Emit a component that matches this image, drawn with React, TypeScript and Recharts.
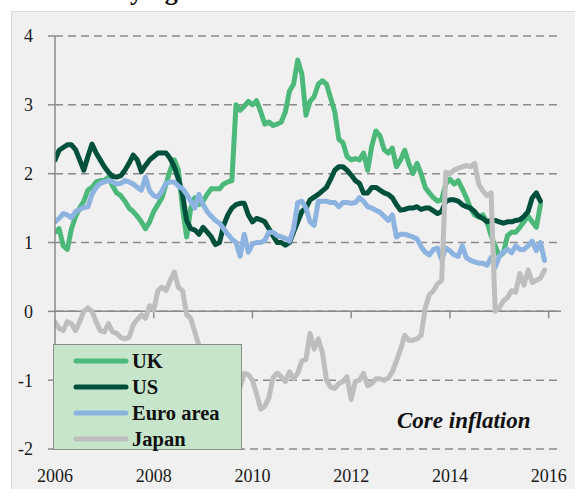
import React from 'react';
import { LineChart, Line, XAxis, YAxis, CartesianGrid, ReferenceLine } from 'recharts';

// monthly core inflation, Jan 2006 onwards (% y/y)
const UK = [
  1.15, 1.2, 0.95, 0.9, 1.2, 1.38, 1.5, 1.6, 1.76, 1.8, 1.88, 1.9,
  1.9, 1.95, 1.82, 1.72, 1.68, 1.6, 1.5, 1.45, 1.38, 1.3, 1.2, 1.3,
  1.45, 1.55, 1.65, 1.85, 2.05, 2.2, 2.05, 1.5, 1.08, 1.5, 1.65, 1.55,
  1.6, 1.7, 1.78, 1.78, 1.78, 1.85, 1.88, 1.9, 3.0, 2.92, 2.98, 3.05,
  3.0, 3.06, 2.9, 2.72, 2.75, 2.7, 2.72, 2.75, 2.9, 3.2, 3.3, 3.65,
  3.45, 2.85, 3.05, 3.12, 3.3, 3.35, 3.3, 3.1, 2.9, 2.5, 2.45, 2.25,
  2.2, 2.22, 2.2, 2.3, 2.05, 2.4, 2.62, 2.55, 2.35, 2.3, 2.37, 2.1,
  2.2, 2.34, 2.15, 2.0, 2.15, 2.0, 1.8, 1.72, 1.65, 1.6, 1.62, 1.85,
  1.92, 1.85, 1.9, 1.78, 1.65, 1.5, 1.4, 1.37, 1.4, 1.3, 1.1, 0.95,
  0.8, 0.85, 1.1, 1.15, 1.15, 1.22, 1.3, 1.38, 1.3, 1.22, 1.55,
];

const US = [
  2.2, 2.34, 2.38, 2.42, 2.42, 2.35, 2.2, 2.05, 2.25, 2.43, 2.3, 2.2,
  2.1, 2.02, 1.96, 1.95, 1.97, 2.05, 2.15, 2.27, 2.2, 2.03, 2.12, 2.2,
  2.25, 2.3, 2.3, 2.3, 2.22, 2.1, 1.92, 1.7, 1.32, 1.2, 1.18, 1.12,
  1.22, 1.15, 1.08, 0.97, 1.0, 1.25, 1.4, 1.5, 1.55, 1.57, 1.57, 1.4,
  1.3, 1.35, 1.33, 1.3, 1.2, 1.1, 1.0, 1.0, 0.96, 1.0, 1.15, 1.3,
  1.45, 1.5, 1.62, 1.66, 1.7, 1.75, 1.8, 1.92, 2.05, 2.1, 2.1, 2.05,
  1.98, 1.9, 1.86, 1.72, 1.72, 1.8, 1.8, 1.76, 1.72, 1.7, 1.65, 1.55,
  1.47, 1.48, 1.5, 1.5, 1.52, 1.48, 1.5, 1.5, 1.46, 1.42, 1.45, 1.6,
  1.62, 1.62, 1.6, 1.55, 1.52, 1.5, 1.45, 1.38, 1.35, 1.3, 1.32, 1.32,
  1.3, 1.28, 1.3, 1.3, 1.32, 1.33, 1.38, 1.45, 1.65, 1.72, 1.6,
];

const EURO = [
  1.3, 1.35, 1.42, 1.4, 1.36, 1.45, 1.48, 1.51, 1.52, 1.7, 1.8, 1.86,
  1.88, 1.9, 1.88, 1.85, 1.86, 1.9, 1.88, 1.85, 1.8, 1.76, 1.95, 1.75,
  1.68, 1.66, 1.75, 1.86, 1.88, 1.88, 1.82, 1.78, 1.7, 1.6, 1.5, 1.7,
  1.55, 1.45, 1.38, 1.32, 1.28, 1.2, 1.12, 1.05, 1.0, 0.8, 1.12, 0.86,
  0.98, 1.0, 1.0, 1.03, 1.15, 1.15, 1.1, 1.08, 1.06, 1.02, 1.2, 1.58,
  1.6, 1.5, 1.3, 1.25, 1.6, 1.6, 1.6, 1.58, 1.58, 1.52, 1.58, 1.58,
  1.57, 1.58, 1.65, 1.6, 1.52, 1.5, 1.47, 1.44, 1.38, 1.32, 1.4, 1.08,
  1.12, 1.12, 1.1, 1.08, 1.05, 0.94, 0.86, 0.82, 0.9, 0.92, 0.75, 0.92,
  0.88, 0.82, 0.8, 0.95, 0.78, 0.74, 0.72, 0.7, 0.7, 0.67, 0.78, 0.64,
  0.8, 0.86, 0.9, 0.85, 0.95, 0.9, 0.9, 0.95, 1.02, 0.88, 1.0, 0.74,
];

const JAPAN = [
  -0.15, -0.25, -0.28, -0.15, -0.18, -0.28, -0.15, 0.0, 0.05, 0.0, -0.15, -0.28,
  -0.3, -0.18, -0.3, -0.32, -0.38, -0.4, -0.38, -0.2, -0.12, -0.05, -0.1, 0.08,
  0.02, 0.3, 0.35, 0.3, 0.45, 0.57, 0.35, 0.3, -0.05, -0.1, -0.3, -0.5,
  -0.6, -0.7, -0.8, -0.9, -1.0, -1.05, -1.1, -1.15, -1.15, -1.1, -0.9, -0.92,
  -1.0, -1.2, -1.42, -1.38, -1.25, -0.96, -0.9, -0.95, -1.02, -0.88, -0.98, -0.9,
  -0.72, -0.7, -0.32, -0.55, -0.4, -0.6, -1.0, -1.1, -1.12, -1.05, -1.02, -0.95,
  -1.28, -1.02, -1.0, -0.9, -1.08, -1.05, -0.98, -0.98, -1.0, -0.97, -0.88, -0.72,
  -0.55, -0.35, -0.42, -0.42, -0.4, -0.35, 0.05, 0.24, 0.3, 0.4, 0.45, 2.02,
  2.0, 2.05, 2.08, 2.1, 2.12, 2.1, 2.15, 1.85, 1.75, 1.68, 1.72, 0.0,
  0.05, 0.15, 0.2, 0.3, 0.28, 0.55, 0.38, 0.6, 0.42, 0.45, 0.48, 0.6,
];

const YEAR_TICKS = [2006, 2008, 2010, 2012, 2014, 2016];
const Y_TICKS = [-2, -1, 0, 1, 2, 3, 4];

const SERIES = [
  { key: 'uk', name: 'UK', color: '#4cb97a' },
  { key: 'us', name: 'US', color: '#00503c' },
  { key: 'euro', name: 'Euro area', color: '#8db3e0' },
  { key: 'japan', name: 'Japan', color: '#bebebe' },
];

const data = JAPAN.map((_, i) => ({
  t: 2006 + i / 12,
  uk: UK[i] ?? null,
  us: US[i] ?? null,
  euro: EURO[i],
  japan: JAPAN[i],
}));

const FONT = '"Liberation Serif", "Times New Roman", serif';
const GRID = '#8a8a8a';

const ChartLegend = () => (
  <div
    style={{
      position: 'absolute',
      left: 53,
      top: 344,
      width: 187,
      height: 104,
      background: '#c6e5cb',
      border: '1.5px solid #8c8c8c',
    }}
  >
    {SERIES.map((s, i) => (
      <div key={s.key} style={{ position: 'absolute', left: 0, top: 3 + i * 26, height: 26, display: 'flex', alignItems: 'center' }}>
        <svg width={78} height={26}>
          <line x1={22} y1={13} x2={72} y2={13} stroke={s.color} strokeWidth={5} strokeLinecap="round" />
        </svg>
        <span style={{ fontFamily: FONT, fontWeight: 'bold', fontSize: 20.5, color: '#111', lineHeight: '26px' }}>{s.name}</span>
      </div>
    ))}
  </div>
);

export default function App() {
  return (
    <div style={{ position: 'absolute', left: 0, top: 0, width: 575, height: 489, overflow: 'hidden', background: '#fff' }}>
      <svg style={{ position: 'absolute', left: 0, top: 0 }} width={575} height={12}>
        <text x={52} y={0} fontFamily={FONT} fontWeight="bold" fontSize={26} fill="#111">Underlying</text>
      </svg>
      <div style={{ position: 'absolute', left: 11, top: 11, width: 575, height: 489, background: '#f0f0f0', border: '1.5px solid #d9d9d9' }} />
      <div style={{ position: 'absolute', left: 0, top: 0 }}>
        <LineChart width={575} height={489} data={data} margin={{ top: 36, right: 14, bottom: 0, left: 0 }}>
          <CartesianGrid vertical={false} stroke={GRID} strokeWidth={1.5} strokeDasharray="8 5" />
          <XAxis
            dataKey="t"
            type="number"
            domain={[2006, 2016.25]}
            ticks={YEAR_TICKS}
            allowDataOverflow
            axisLine={false}
            tickLine={false}
            height={40}
            tickMargin={14}
            tick={{ fontFamily: FONT, fontSize: 18, fill: '#1a1a1a' }}
          />
          <YAxis
            type="number"
            domain={[-2, 4]}
            ticks={Y_TICKS}
            width={55}
            axisLine={{ stroke: GRID, strokeWidth: 1.5 }}
            tickLine={{ stroke: GRID, strokeWidth: 1.5 }}
            tickSize={7}
            tickMargin={15}
            tick={{ fontFamily: FONT, fontSize: 18, fill: '#1a1a1a' }}
          />
          <ReferenceLine y={0} stroke={GRID} strokeWidth={1.5} />
          {YEAR_TICKS.slice(1).map((yr) => (
            <ReferenceLine
              key={yr}
              segment={[{ x: yr, y: 0 }, { x: yr, y: -0.1 }]}
              stroke={GRID}
              strokeWidth={1.5}
            />
          ))}
          {SERIES.map((s) => (
            <Line
              key={s.key}
              type="linear"
              dataKey={s.key}
              name={s.name}
              stroke={s.color}
              strokeWidth={5}
              strokeLinejoin="round"
              strokeLinecap="round"
              dot={false}
              activeDot={false}
              connectNulls={false}
              isAnimationActive={false}
            />
          ))}
        </LineChart>
      </div>
      <ChartLegend />
      <div
        style={{
          position: 'absolute',
          left: 397,
          top: 408,
          fontFamily: FONT,
          fontWeight: 'bold',
          fontStyle: 'italic',
          fontSize: 23,
          color: '#111',
          whiteSpace: 'nowrap',
        }}
      >
        Core inflation
      </div>
    </div>
  );
}
